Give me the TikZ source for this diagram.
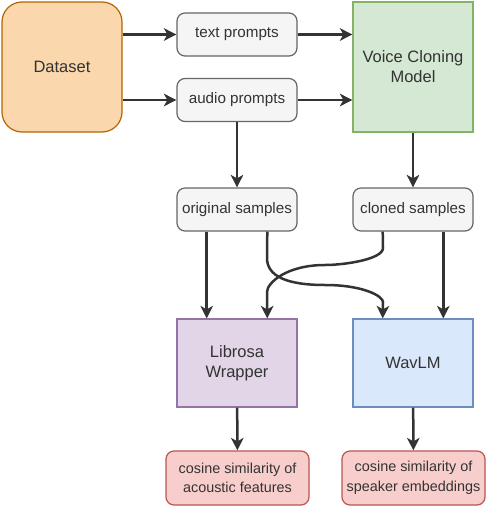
\documentclass[tikz,border=0pt]{standalone}
\usepackage{fontspec}
\setmainfont{Liberation Sans}
\usetikzlibrary{arrows.meta,calc}
\definecolor{dsfill}{HTML}{FAD7AC}\definecolor{dsdraw}{HTML}{B46504}
\definecolor{gyfill}{HTML}{F5F5F5}\definecolor{gydraw}{HTML}{666666}
\definecolor{gnfill}{HTML}{D5E8D4}\definecolor{gndraw}{HTML}{82B366}
\definecolor{pufill}{HTML}{E1D5E7}\definecolor{pudraw}{HTML}{9673A6}
\definecolor{blfill}{HTML}{DAE8FC}\definecolor{bldraw}{HTML}{6C8EBF}
\definecolor{rdfill}{HTML}{F8CECC}\definecolor{rddraw}{HTML}{B85450}
\definecolor{ln}{HTML}{333333}
\begin{document}
\begin{tikzpicture}[x=1pt,y=-1pt,
  box/.style={draw,line width=1.2pt,inner sep=2pt,align=center,text=ln},
  bigfont/.style={font=\fontsize{16.5}{20}\selectfont},
  smallfont/.style={font=\fontsize{15.2}{19}\selectfont},
  redfont/.style={font=\fontsize{14.4}{19.5}\selectfont},
  gray box/.style={box,smallfont,fill=gyfill,draw=gydraw,rounded corners=8pt,minimum width=120pt,minimum height=43pt},
  red box/.style={box,redfont,fill=rdfill,draw=rddraw,rounded corners=8pt,minimum width=143pt,minimum height=54pt},
  big box/.style={box,bigfont,minimum width=120pt},
  conn/.style={draw=ln,line width=2.5pt,-{Stealth[length=12.5pt,width=12.5pt,inset=3.5pt]}}
]
\useasboundingbox (0,0) rectangle (486,506);
\node[big box,fill=dsfill,draw=dsdraw,rounded corners=20pt,minimum height=130pt] (ds) at (62,67) {Dataset};
\node[gray box] (tp) at (237,34.5) {text prompts};
\node[gray box] (ap) at (237,100) {audio prompts};
\node[big box,fill=gnfill,draw=gndraw,minimum height=130pt] (vcm) at (413,67) {Voice Cloning\\Model};
\node[gray box] (os) at (237,209.5) {original samples};
\node[gray box] (cs) at (413,209.5) {cloned samples};
\node[big box,fill=pufill,draw=pudraw,minimum height=88pt] (lw) at (237,363) {Librosa\\Wrapper};
\node[big box,fill=blfill,draw=bldraw,minimum height=88pt] (wl) at (413,363) {WavLM};
\node[red box] (ca) at (237.5,478) {cosine similarity of\\acoustic features};
\node[red box] (cb) at (413.5,478) {cosine similarity of\\speaker embeddings};

\draw[conn] (ds.east |- tp) -- (tp);
\draw[conn] (ds.east |- ap) -- (ap);
\draw[conn] (tp) -- (vcm.west |- tp);
\draw[conn] (ap) -- (vcm.west |- ap);
\draw[conn] (ap) -- (os);
\draw[conn] (vcm) -- (cs);
\draw[conn] ($(os.south)!0.5!(os.south west)$) -- ($(lw.north)!0.5!(lw.north west)$);
\draw[conn] ($(cs.south)!0.5!(cs.south east)$) -- ($(wl.north)!0.5!(wl.north east)$);
\draw[conn] ($(os.south)!0.5!(os.south east)$) -- (267,258)
  .. controls (267,276) and (286.3,285) .. (325,285)
  .. controls (363.7,285) and (383,296.3) .. (383,302)
  -- ($(wl.north)!0.5!(wl.north west)$);
\draw[conn] ($(cs.south)!0.5!(cs.south west)$) -- (383,248)
  .. controls (383,259.3) and (344.3,265) .. (325,265)
  .. controls (286.3,265) and (267,283) .. (267,292)
  -- ($(lw.north)!0.5!(lw.north east)$);
\draw[conn] (lw) -- (ca);
\draw[conn] (wl) -- (cb);
\end{tikzpicture}
\end{document}
